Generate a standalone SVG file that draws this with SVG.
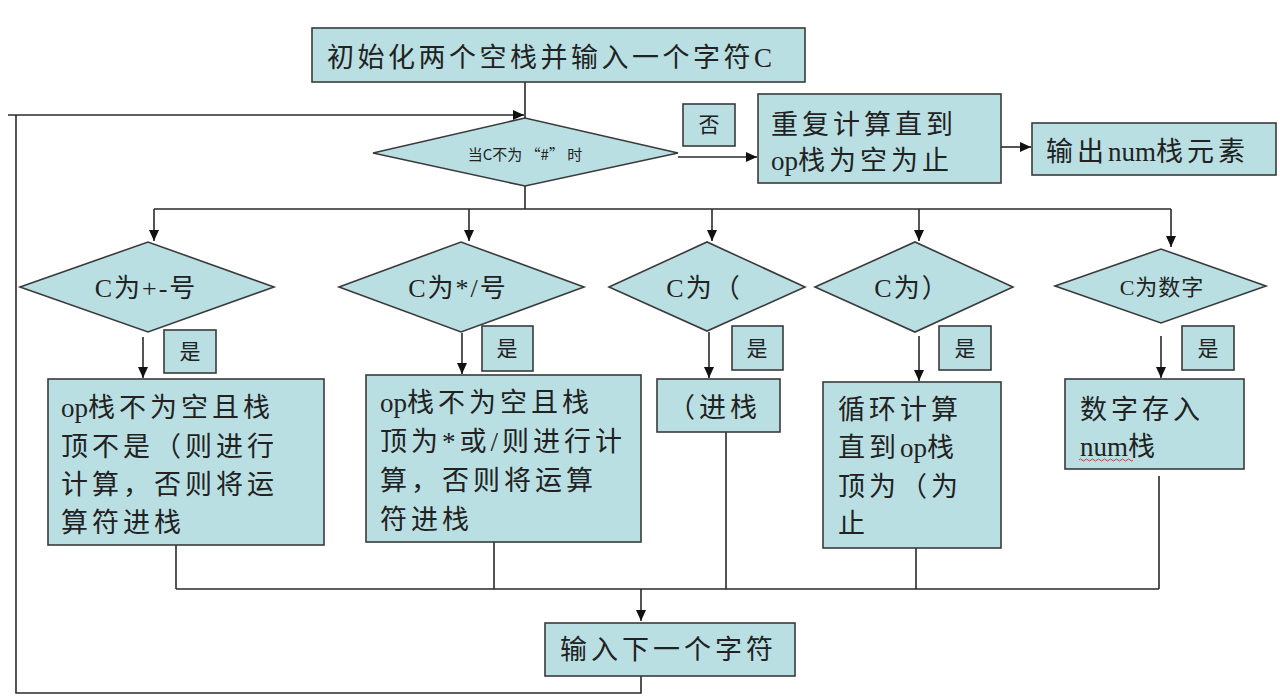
<svg xmlns="http://www.w3.org/2000/svg" width="1280" height="696" viewBox="0 0 1280 696">
<style>
.box{fill:#b9dfe3;stroke:#3a3a3a;stroke-width:1.6}
.t{font-family:"Liberation Serif","Noto Sans CJK SC",serif;font-size:27px;letter-spacing:4px;fill:#222}
.l{letter-spacing:0px}
.d{font-family:"Liberation Serif","Noto Sans CJK SC",serif;font-size:26px;letter-spacing:2px;fill:#222;text-anchor:middle}
.s{font-family:"Noto Sans CJK SC",sans-serif;font-size:21px;fill:#222;text-anchor:middle}
.c{fill:none;stroke:#2a2a2a;stroke-width:1.6}
</style>
<defs>
<marker id="ah" markerUnits="userSpaceOnUse" markerWidth="12" markerHeight="10" refX="11" refY="5" orient="auto">
<path d="M0,0 L11,5 L0,10 Z" fill="#111"/>
</marker>
</defs>
<rect width="1280" height="696" fill="#ffffff"/>
<g id="connectors">
<path class="c" d="M525,82 V118"/>
<path class="c" d="M641,676 V693 H16 V115"/>
<path class="c" d="M8,115 H524" marker-end="url(#ah)"/>
<path class="c" d="M678,157 H757" marker-end="url(#ah)"/>
<path class="c" d="M1001,147 H1031" marker-end="url(#ah)"/>
<path class="c" d="M525,186 V209 M154,209 H1171"/>
<path class="c" d="M154,209 V241" marker-end="url(#ah)"/>
<path class="c" d="M469,209 V241" marker-end="url(#ah)"/>
<path class="c" d="M712,209 V241" marker-end="url(#ah)"/>
<path class="c" d="M919,209 V241" marker-end="url(#ah)"/>
<path class="c" d="M1171,209 V247" marker-end="url(#ah)"/>
<path class="c" d="M143,337 V378" marker-end="url(#ah)"/>
<path class="c" d="M462,333 V374" marker-end="url(#ah)"/>
<path class="c" d="M709,332 V378" marker-end="url(#ah)"/>
<path class="c" d="M919,336 V381" marker-end="url(#ah)"/>
<path class="c" d="M1161,336 V378" marker-end="url(#ah)"/>
<path class="c" d="M176,545 V589 M494,542 V589 M726,432 V589 M916,548 V589 M1159,476 V589 M176,589 H1159"/>
<path class="c" d="M641,589 V621" marker-end="url(#ah)"/>
</g>
<g id="init">
<rect class="box" x="312" y="28" width="493" height="54"/>
<text class="t" x="327" y="67" style="letter-spacing:3.5px">初始化两个空栈并输入一个字符C</text>
</g>
<g id="loop-cond">
<polygon class="box" points="373,153 525,118 678,153 525,186"/>
<text x="525" y="160" style="font-family:'Noto Sans CJK SC',sans-serif;font-size:15px;fill:#222;text-anchor:middle">当C不为 “#” 时</text>
</g>
<g id="no-label">
<rect class="box" x="683" y="104" width="52" height="42"/>
<text class="s" x="709" y="132">否</text>
</g>
<g id="finish-calc">
<rect class="box" x="758" y="94" width="243" height="89"/>
<text class="t" x="771" y="134">重复计算直到</text>
<text class="t" x="771" y="170"><tspan class="l">op</tspan>栈为空为止</text>
</g>
<g id="output">
<rect class="box" x="1032" y="123" width="244" height="52"/>
<text class="t" x="1046" y="161">输出<tspan class="l">num</tspan>栈元素</text>
</g>
<g id="cond-plusminus">
<polygon class="box" points="20,287 148,242 274,287 148,332"/>
<text class="d" x="146" y="297">C为+-号</text>
<rect class="box" x="164" y="330" width="52" height="43"/>
<text class="s" x="190" y="359">是</text>
</g>
<g id="act-plusminus">
<rect class="box" x="48" y="379" width="276" height="166"/>
<text class="t" x="61" y="417"><tspan class="l">op</tspan>栈不为空且栈</text>
<text class="t" x="61" y="456">顶不是（则进行</text>
<text class="t" x="61" y="494">计算，否则将运</text>
<text class="t" x="61" y="532">算符进栈</text>
</g>
<g id="cond-muldiv">
<polygon class="box" points="339,287 461,242 584,287 461,332"/>
<text class="d" x="458" y="297">C为*/号</text>
<rect class="box" x="482" y="326" width="51" height="45"/>
<text class="s" x="507" y="356">是</text>
</g>
<g id="act-muldiv">
<rect class="box" x="366" y="375" width="275" height="167"/>
<text class="t" x="380" y="412"><tspan class="l">op</tspan>栈不为空且栈</text>
<text class="t" x="380" y="451">顶为*或/则进行计</text>
<text class="t" x="380" y="490">算，否则将运算</text>
<text class="t" x="380" y="529">符进栈</text>
</g>
<g id="cond-lparen">
<polygon class="box" points="609,287 707,242 805,287 707,331"/>
<text class="d" x="704" y="297">C为（</text>
<rect class="box" x="732" y="326" width="51" height="44"/>
<text class="s" x="757" y="356">是</text>
</g>
<g id="act-lparen">
<rect class="box" x="657" y="379" width="123" height="53"/>
<text class="t" x="668" y="417">（进栈</text>
</g>
<g id="cond-rparen">
<polygon class="box" points="815,287 915,242 1013,287 915,332"/>
<text class="d" x="912" y="297">C为）</text>
<rect class="box" x="939" y="326" width="52" height="44"/>
<text class="s" x="965" y="356">是</text>
</g>
<g id="act-rparen">
<rect class="box" x="823" y="382" width="178" height="166"/>
<text class="t" x="838" y="419">循环计算</text>
<text class="t" x="838" y="457">直到<tspan class="l">op</tspan>栈</text>
<text class="t" x="838" y="496">顶为（为</text>
<text class="t" x="838" y="533">止</text>
</g>
<g id="cond-digit">
<polygon class="box" points="1055,286 1161,249 1266,286 1161,323"/>
<text class="d" x="1162" y="295" style="font-size:22px;letter-spacing:1px">C为数字</text>
<rect class="box" x="1182" y="326" width="52" height="44"/>
<text class="s" x="1208" y="356">是</text>
</g>
<g id="act-digit">
<rect class="box" x="1065" y="379" width="179" height="90"/>
<text class="t" x="1080" y="419">数字存入</text>
<text class="t" x="1080" y="456"><tspan class="l">num</tspan>栈</text>
<path d="M1079,460 q1.5,-2 3,0 t3,0 t3,0 t3,0 t3,0 t3,0 t3,0 t3,0 t3,0 t3,0 t3,0 t3,0 t3,0 t3,0 t3,0 t3,0 t3,0 t3,0" fill="none" stroke="#e03030" stroke-width="1"/>
</g>
<g id="next-char">
<rect class="box" x="545" y="623" width="250" height="53"/>
<text class="t" x="560" y="659">输入下一个字符</text>
</g>
</svg>
